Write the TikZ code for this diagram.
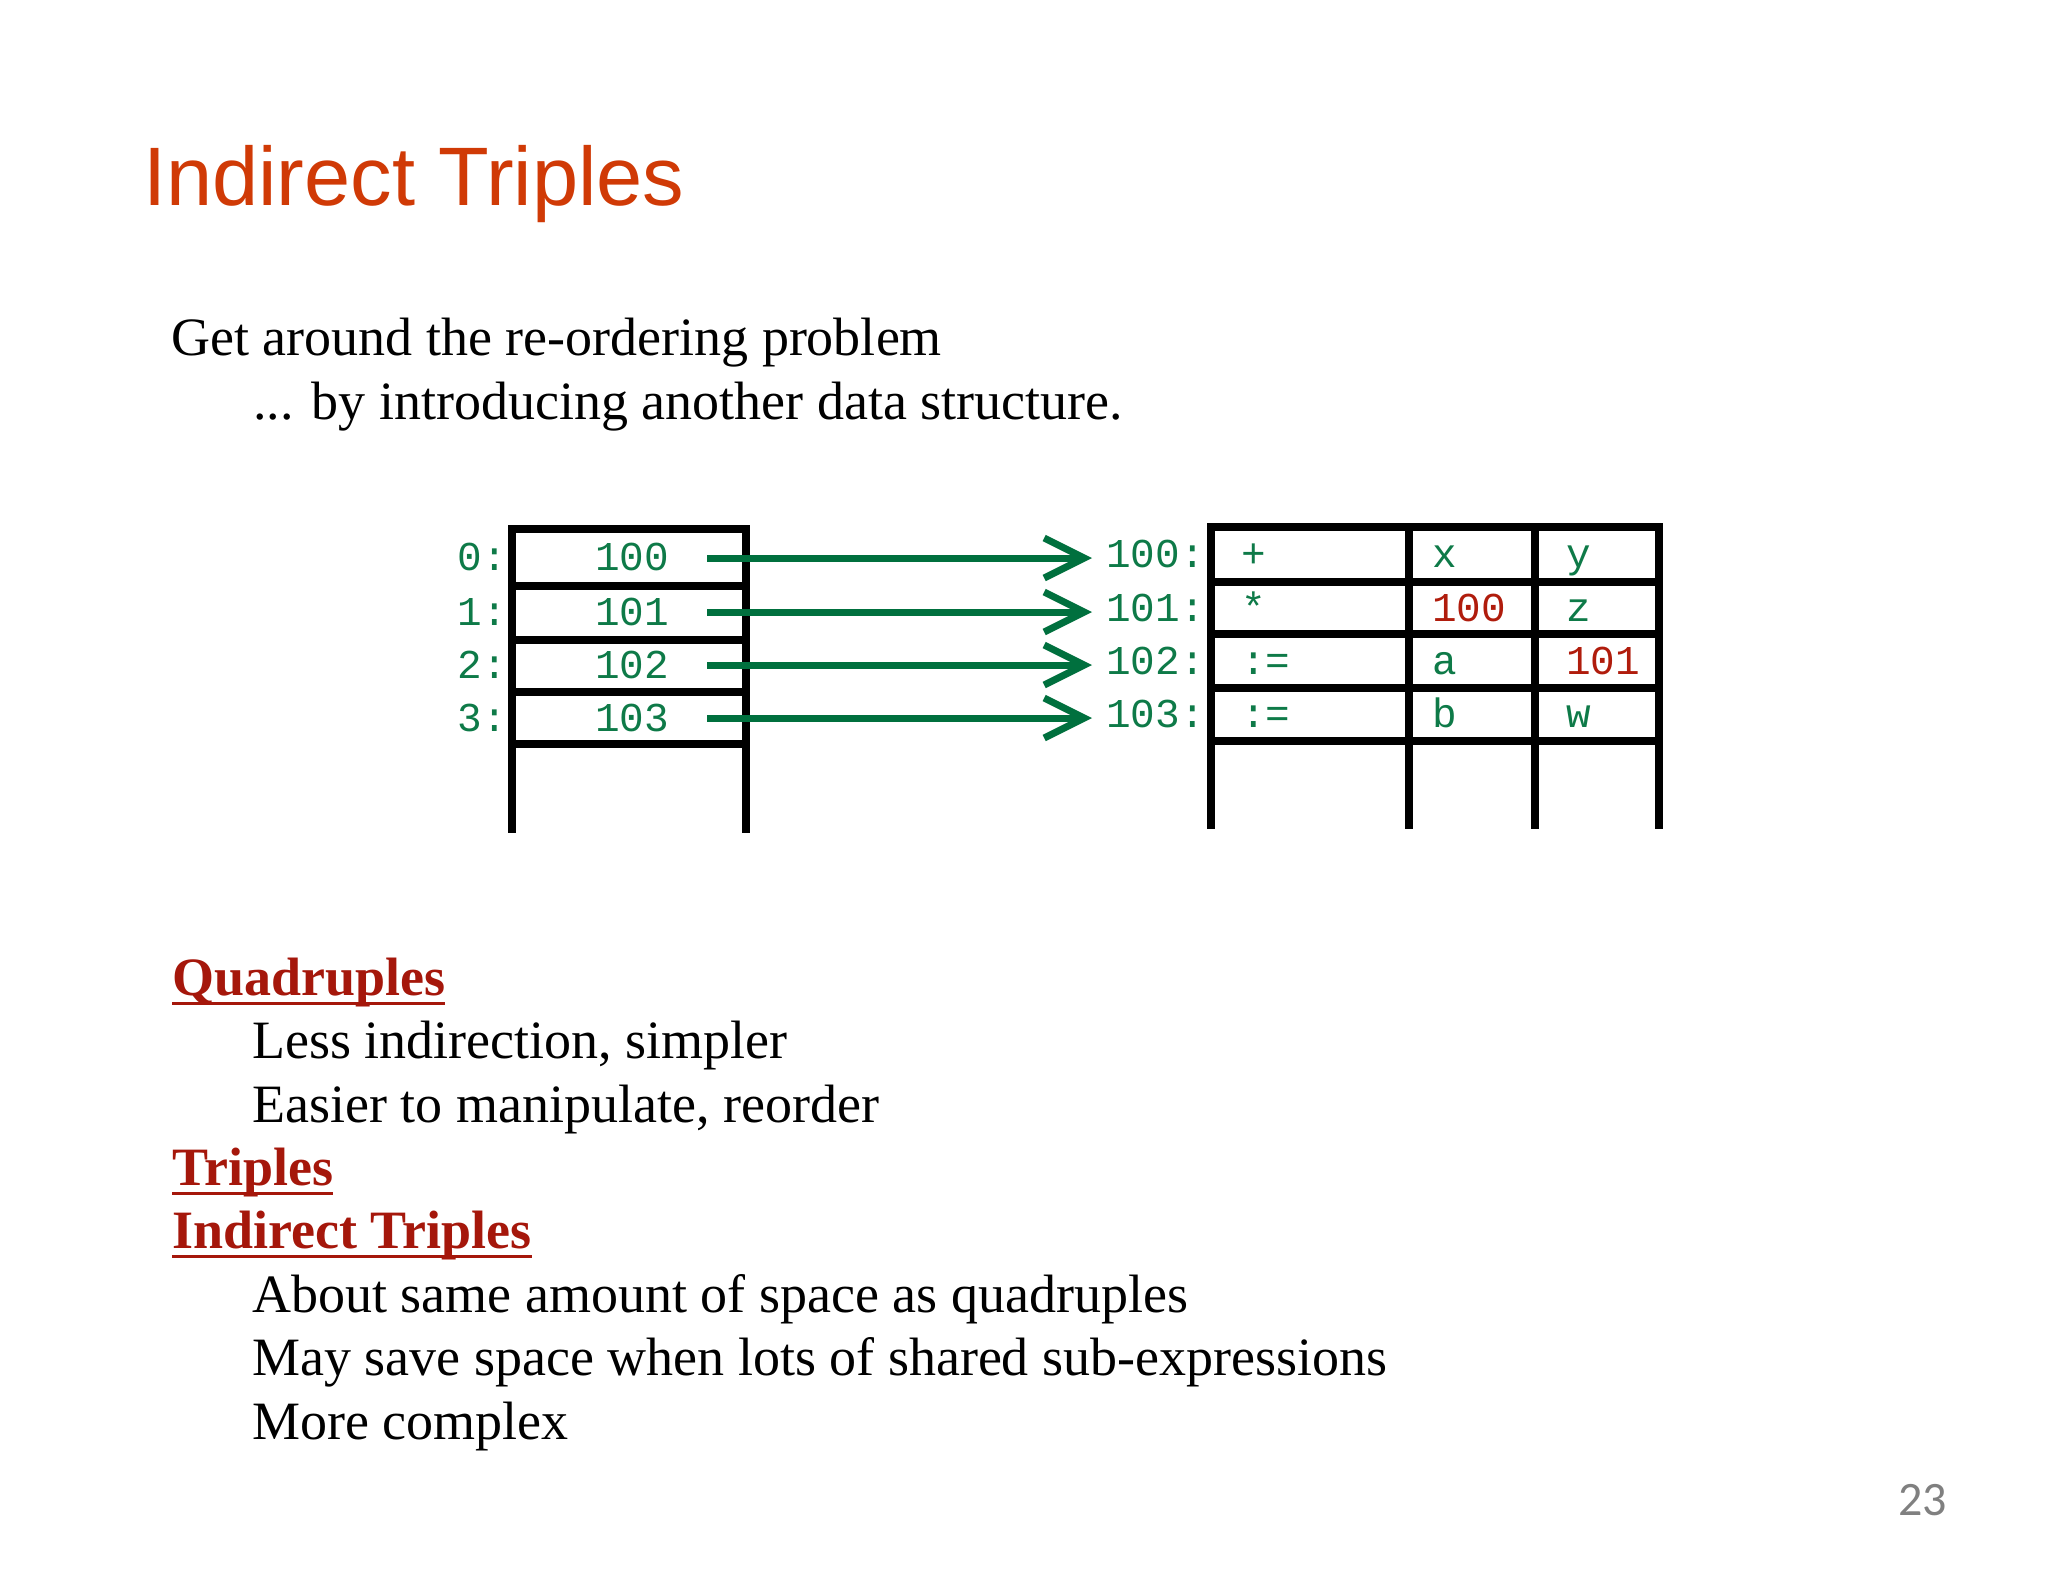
\documentclass[tikz,border=0pt]{standalone}
\usepackage{fontspec}
\setmainfont{Liberation Serif}
\newfontfamily\arialfont{Liberation Sans}
\newfontfamily\codefont{Liberation Mono}
\newfontfamily\calfont{Carlito}
\usetikzlibrary{arrows.meta,calc}
\definecolor{titlered}{RGB}{208,58,6}
\definecolor{headred}{RGB}{165,23,11}
\definecolor{codegreen}{RGB}{14,122,72}
\definecolor{arrowgreen}{RGB}{0,112,62}
\definecolor{codered}{RGB}{176,28,12}
\definecolor{pagegray}{RGB}{128,128,128}
\begin{document}
\begin{tikzpicture}[x=1pt,y=-1pt,
  txt/.style={anchor=base west,inner sep=0pt,font=\fontsize{54}{64}\selectfont},
  head/.style={anchor=base west,inner sep=0pt,text=headred,font=\fontsize{54}{64}\selectfont\bfseries},
  uline/.style={draw=headred,line width=3pt},
  code/.style={inner sep=0pt,text=codegreen,font=\codefont\fontsize{41}{48}\selectfont},
  codered/.style={code,text=codered},
  grid/.style={line width=8pt},
  arr/.style={draw=arrowgreen,line width=7pt,-{Straight Barb[length=40pt,width=40pt]}}]
\fill[white] (0,0) rectangle (2048,1582);
\useasboundingbox (0,0) rectangle (2048,1582);

% title
\node[anchor=base west,inner sep=0pt,text=titlered,font=\arialfont\fontsize{83}{99}\selectfont] (title) at (143,205) {Indirect Triples};

% intro text
\node[txt] (intro1) at (171,355) {Get around the re-ordering problem};
\node[txt] (intro2) at (253,419) {... by introducing another data structure.};

% left table
\draw[grid] (512,525) -- (512,833);
\draw[grid] (746,525) -- (746,833);
\foreach \y in {529,586,640,692,744} \draw[grid] (508,\y) -- (750,\y);
\foreach \i/\y/\v in {0/570/100,1/625/101,2/678/102,3/731/103}{
  \node[code,anchor=base east] (li\i) at (507,\y) {\i:};
  \node[code,anchor=base] (lv\i) at (632,\y) {\v};
}

% right table
\foreach \x in {1211,1409,1535,1659} \draw[grid] (\x,523) -- (\x,829);
\foreach \y in {527,582,634,688,741} \draw[grid] (1207,\y) -- (1663,\y);
\foreach \i/\y in {0/567,1/621,2/674,3/727}{
  \node[code,anchor=base east] (ri\i) at (1205,\y) {10\i:};
}
\node[code,anchor=base west] (c00) at (1241,567) {+};
\node[code,anchor=base west] (c01) at (1432,567) {x};
\node[code,anchor=base west] (c02) at (1566,567) {y};
\node[code,anchor=base west] (c10) at (1241,621) {*};
\node[codered,anchor=base west] (c11) at (1432,621) {100};
\node[code,anchor=base west] (c12) at (1566,621) {z};
\node[code,anchor=base west] (c20) at (1241,674) {:=};
\node[code,anchor=base west] (c21) at (1432,674) {a};
\node[codered,anchor=base west] (c22) at (1566,674) {101};
\node[code,anchor=base west] (c30) at (1241,727) {:=};
\node[code,anchor=base west] (c31) at (1432,727) {b};
\node[code,anchor=base west] (c32) at (1566,727) {w};

% arrows
\foreach \i/\y in {0/558,1/612,2/665,3/718}{
  \coordinate (s\i) at (707,\y);
  \coordinate (t\i) at (1092,\y);
  \draw[arr] (s\i) -- (t\i);
}

% list
\node[head] (quad) at (172,995) {Quadruples};
\draw[uline] ($(quad.base west)+(0,8)$) -- ($(quad.base east)+(0,8)$);
\node[txt] (q1) at (252,1058) {Less indirection, simpler};
\node[txt] (q2) at (252,1122) {Easier to manipulate, reorder};
\node[head] (trip) at (172,1185) {Triples};
\draw[uline] ($(trip.base west)+(0,8)$) -- ($(trip.base east)+(0,8)$);
\node[head] (itrip) at (172,1248) {Indirect Triples};
\draw[uline] ($(itrip.base west)+(0,8)$) -- ($(itrip.base east)+(0,8)$);
\node[txt] (i1) at (252,1312) {About same amount of space as quadruples};
\node[txt] (i2) at (252,1375) {May save space when lots of shared sub-expressions};
\node[txt] (i3) at (252,1439) {More complex};

% page number
\node[anchor=base west,inner sep=0pt,text=pagegray,font=\calfont\fontsize{48}{56}\selectfont] (page) at (1898,1515) {23};
\end{tikzpicture}
\end{document}
